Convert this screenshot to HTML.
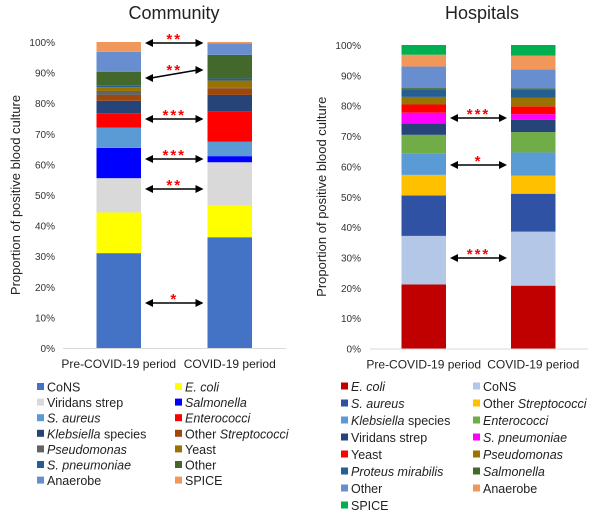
<!DOCTYPE html>
<html><head><meta charset="utf-8">
<style>
body{margin:0;background:#fff;}
svg{display:block;font-family:"Liberation Sans",sans-serif;}
</style></head>
<body>
<svg id="chart" width="600" height="519" xmlns="http://www.w3.org/2000/svg"></svg>
<script>
// Community data
const comCategories = ["CoNS","E. coli","Viridans strep","Salmonella","S. aureus","Enterococci","Klebsiella species","Other Streptococci","Pseudomonas","Yeast","S. pneumoniae","Other","Anaerobe","SPICE"];
const comPre = [31,13.3,11.2,9.9,6.6,4.7,4.1,1.9,1.3,1.2,0.5,4.6,6.5,3.2];
const comCovid = [36.2,10.3,14.2,2,4.7,9.8,5.5,2.2,0.3,2.2,0.7,7.7,3.8,0.4];
const comColors = ["#4472c4","#ffff00","#d9d9d9","#0000ff","#5b9bd5","#ff0000","#264478","#9e480e","#636363","#997300","#255e91","#43682b","#698ed0","#f1975a"];
// Hospital data
const hosCategories = ["E. coli","CoNS","S. aureus","Other Streptococci","Klebsiella species","Enterococci","Viridans strep","S. pneumoniae","Yeast","Pseudomonas","Proteus mirabilis","Salmonella","Other","Anaerobe","SPICE"];
const hosPre = [21.1,16,13.3,6.8,7,6.2,3.8,3.5,2.7,2.5,2.4,0.5,7.1,3.9,3.2];
const hosCovid = [20.7,17.8,12.5,6,7.6,6.7,4.1,1.8,2.6,2.9,2.7,0.3,6.3,4.5,3.5];
const hosColors = ["#c00000","#b4c7e7","#2f52a4","#ffc000","#5b9bd5","#70ad47","#264478","#ff00ff","#ff0000","#997300","#255e91","#43682b","#698ed0","#f1975a","#00b050"];
const yTicks = [0,10,20,30,40,50,60,70,80,90,100];
const periods = ["Pre-COVID-19 period","COVID-19 period"];
const comSig = [["**",43,43],["**",78,70],["***",119,119],["***",159,159],["**",189,189],["*",303,303]];
const hosSig = [["***",118,118],["*",165,165],["***",258,258]];

const NS="http://www.w3.org/2000/svg";
const svg=document.getElementById('chart');
function el(tag,attrs,parent){const e=document.createElementNS(NS,tag);for(const k in attrs)e.setAttribute(k,attrs[k]);(parent||svg).appendChild(e);return e;}

function panel(cfg){
  const g=el('g',{});
  
  
  const y=v=>cfg.y0-(v/100)*(cfg.y0-cfg.y100);
  const t=el('text',{x:cfg.titleX,y:19,'font-size':18,fill:'#222','text-anchor':'middle'},g);
  t.textContent=cfg.title;
  
  
  yTicks.forEach(v=>{
    const tx=el('text',{x:cfg.tickX,y:y(v)+4,'font-size':10,fill:'#333','text-anchor':'end'},g);
    tx.textContent=v+'%';
    
    
  });
  const yt=el('text',{x:0,y:0,'font-size':13,fill:'#222','text-anchor':'middle',transform:`translate(${cfg.ytX},${(cfg.y0+cfg.y100)/2}) rotate(-90)`},g);
  yt.textContent='Proportion of positive blood culture';
  
  
  const ax=el('line',{x1:cfg.axX1,x2:cfg.axX2,y1:cfg.y0+0.5,y2:cfg.y0+0.5,stroke:'#d9d9d9'},g);
  
  
  [cfg.pre,cfg.covid].forEach((vals,bi)=>{
    let cum=0;
    const bx=cfg.barX[bi];
    vals.forEach((v,i)=>{
      const r=el('rect',{x:bx,y:y(cum+v),width:cfg.barW,height:y(cum)-y(cum+v),fill:cfg.colors[i]},g);
      
      
      cum+=v;
    });
    const lb=el('text',{x:bx+cfg.barW/2,y:cfg.y0+20,'font-size':12,fill:'#222','text-anchor':'middle'},g);
    lb.textContent=periods[bi];
    
    
  });
  const ax1=cfg.barX[0]+cfg.barW+4, ax2=cfg.barX[1]-4;
  cfg.sig.forEach(s=>{
    const a=el('g',{},g);
    
    
    el('line',{x1:ax1+6,y1:s[1],x2:ax2-6,y2:s[2],stroke:'#000','stroke-width':1.5},a);
    el('polygon',{points:`${ax1},${s[1]} ${ax1+8},${s[1]-4} ${ax1+8},${s[1]+4}`,fill:'#000'},a);
    el('polygon',{points:`${ax2},${s[2]} ${ax2-8},${s[2]-4} ${ax2-8},${s[2]+4}`,fill:'#000'},a);
    const st=el('text',{x:(ax1+ax2)/2,y:(s[1]+s[2])/2+1,'font-size':15,'font-weight':'bold',fill:'#ff0000','text-anchor':'middle','letter-spacing':2},a);
    st.textContent=s[0];
  });
  cfg.cats.forEach((c,i)=>{
    const col=i%2, row=Math.floor(i/2);
    const lx=cfg.legX[col], ly=cfg.legY+row*cfg.legDY;
    const e=el('g',{},g);
    
    
    el('rect',{x:lx,y:ly-4,width:7,height:7,fill:cfg.colors[i]},e);
    const tx=el('text',{x:lx+10,y:ly+4.5,'font-size':12.5,fill:'#222'},e);
    const it=cfg.ital(c);
    if(it.length===3){
      const a=el('tspan',{'font-style':it[0]?'italic':'normal'},tx);a.textContent=it[1];
      const b=el('tspan',{'font-style':it[0]?'normal':'italic'},tx);b.textContent=it[2];
    } else {
      tx.setAttribute('font-style',it[0]?'italic':'normal');tx.textContent=c;
    }
  });
}
const italicSet=["E. coli","Salmonella","S. aureus","Enterococci","Pseudomonas","S. pneumoniae","Proteus mirabilis"];
function italFor(c){
  if(c==="Klebsiella species")return [true,"Klebsiella"," species"];
  if(c==="Other Streptococci")return [false,"Other ","Streptococci"];
  return [italicSet.includes(c)];
}
panel({name:'community',title:'Community',titleX:174,tickX:55,ytX:20,y0:348,y100:42,axX1:63,axX2:286,
  barX:[96.5,207.5],barW:44.5,pre:comPre,covid:comCovid,colors:comColors,cats:comCategories,sig:comSig,
  legX:[37,175],legY:387,legDY:15.6,ital:italFor});
panel({name:'hospitals',title:'Hospitals',titleX:482,tickX:361,ytX:326,y0:348.5,y100:45,axX1:370,axX2:588,
  barX:[401.5,511],barW:44.5,pre:hosPre,covid:hosCovid,colors:hosColors,cats:hosCategories,sig:hosSig,
  legX:[341,473],legY:386.5,legDY:17,ital:italFor});
</script>
</body></html>
